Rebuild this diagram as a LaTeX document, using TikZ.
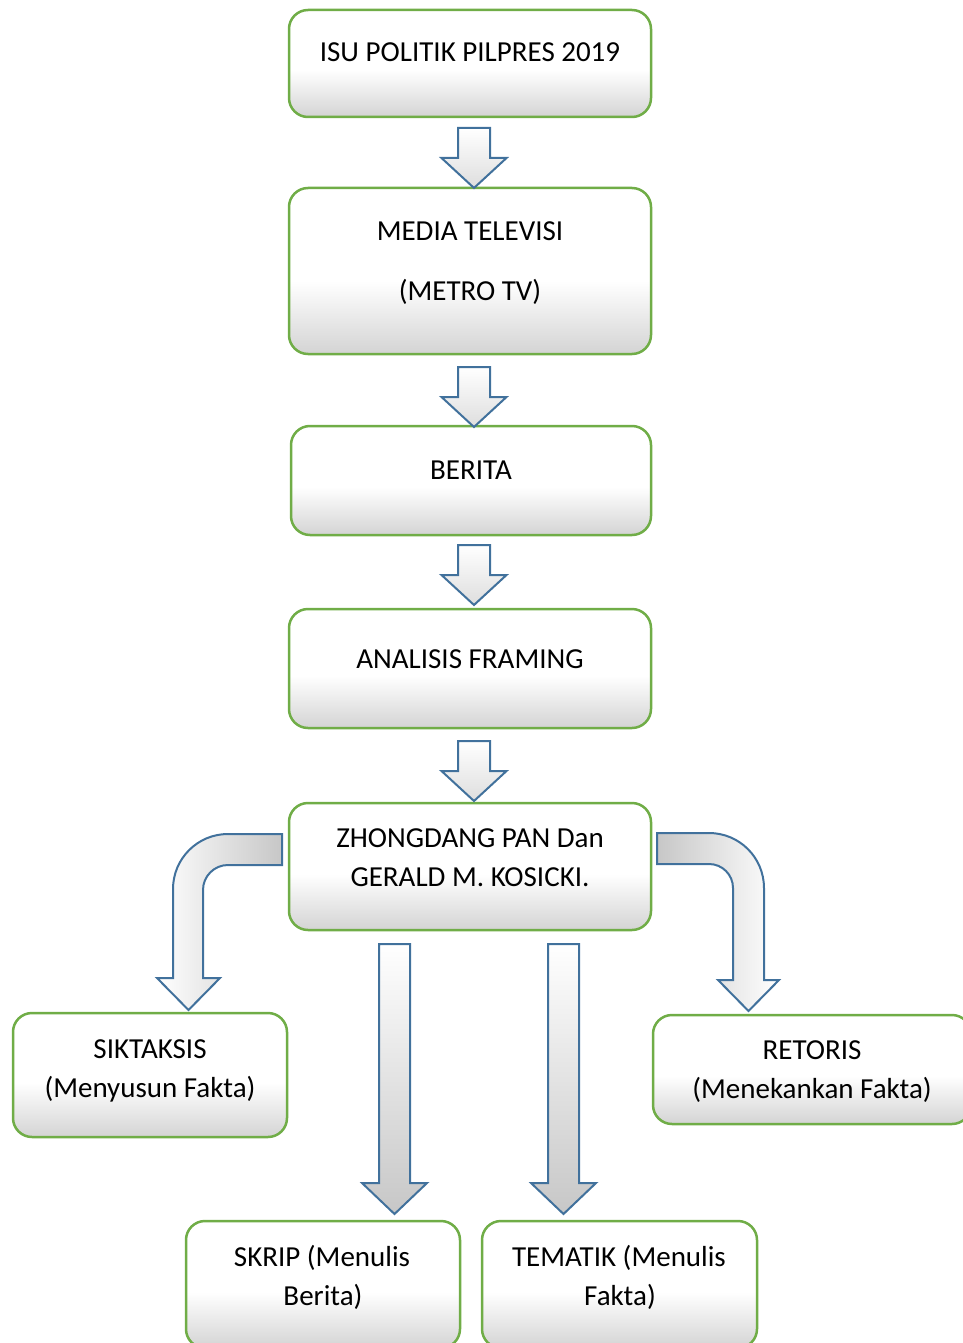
\documentclass[tikz,border=0pt]{standalone}
\usepackage{fontspec}
\setmainfont{Carlito}
\definecolor{boxgreen}{HTML}{70AD47}
\definecolor{arrblue}{HTML}{41719C}
\pgfdeclareverticalshading{boxshade}{100bp}{color(0bp)=(black!17); color(25bp)=(black!17); color(47bp)=(white); color(75bp)=(white); color(100bp)=(white)}
\tikzset{
  box/.style={draw=boxgreen, line width=2.5pt, rounded corners=19pt, shading=boxshade, inner sep=0pt},
  txt/.style={anchor=base, inner sep=0pt, font=\fontsize{29}{39}\selectfont, text=black},
  varrow/.style={draw=arrblue, line width=2pt, top color=white, bottom color=black!22},
  sarrow/.style={draw=arrblue, line width=2pt, top color=white, bottom color=black!13},
}
\begin{document}
\begin{tikzpicture}[x=1pt, y=-1pt]
\useasboundingbox (0,0) rectangle (962,1343);
% boxes
\node[box, minimum width=362pt, minimum height=107pt] (b1) at (470,63.5) {};
\node[box, minimum width=362pt, minimum height=166pt] (b2) at (470,271) {};
\node[box, minimum width=360pt, minimum height=109pt] (b3) at (471,480.5) {};
\node[box, minimum width=362pt, minimum height=119pt] (b4) at (470,668.5) {};
\node[box, minimum width=362pt, minimum height=127pt] (b5) at (470,866.5) {};
\node[box, minimum width=274pt, minimum height=124pt] (b6) at (150,1075) {};
\node[box, minimum width=318pt, minimum height=109pt] (b7) at (812,1069.5) {};
\node[box, minimum width=274pt, minimum height=127pt] (b8) at (323,1284.5) {};
\node[box, minimum width=275pt, minimum height=127pt] (b9) at (619.5,1284.5) {};
% texts
\node[txt] (t1) at (470,62) {ISU POLITIK PILPRES 2019};
\node[txt] (t2a) at (470,240) {MEDIA TELEVISI};
\node[txt] (t2b) at (470,300) {(METRO TV)};
\node[txt] (t3) at (471,479) {BERITA};
\node[txt] (t4) at (470,668) {ANALISIS FRAMING};
\node[txt] (t5a) at (470,847) {ZHONGDANG PAN Dan};
\node[txt] (t5b) at (470,886) {GERALD M. KOSICKI.};
\node[txt] (t6a) at (150,1058) {SIKTAKSIS};
\node[txt] (t6b) at (150,1097) {(Menyusun Fakta)};
\node[txt] (t7a) at (812,1059) {RETORIS};
\node[txt] (t7b) at (812,1098) {(Menekankan Fakta)};
\node[txt] (t8a) at (322,1266) {SKRIP (Menulis};
\node[txt] (t8b) at (323,1305) {Berita)};
\node[txt] (t9a) at (619,1266) {TEMATIK (Menulis};
\node[txt] (t9b) at (620,1305) {Fakta)};
% small down arrows
\foreach \yt in {128,367,545,741}{
  \shade[sarrow] (458,\yt) -- (490,\yt) -- (490,\yt+30) -- (506.5,\yt+30) -- (474,\yt+60) -- (441.5,\yt+30) -- (458,\yt+30) -- cycle;
}
% long down arrows
\shade[varrow] (379,944) -- (410,944) -- (410,1183) -- (427,1183) -- (394.5,1214) -- (362,1183) -- (379,1183) -- cycle;
\shade[varrow] (548,944) -- (579,944) -- (579,1183) -- (596,1183) -- (563.5,1214) -- (531,1183) -- (548,1183) -- cycle;
% bent arrow left
\shade[draw=arrblue, line width=2pt, left color=white, middle color=white, right color=black!22]
  (282,834) -- (228,834) .. controls (197.6,834) and (173,858.6) .. (173,889)
  -- (173,978) -- (157,978) -- (188.5,1010) -- (220,978) -- (203,978) -- (203,890)
  .. controls (203,876.2) and (214.2,865) .. (228,865) -- (282,865) -- cycle;
% bent arrow right
\shade[draw=arrblue, line width=2pt, left color=black!22, middle color=white, right color=white]
  (657,833) -- (709,833) .. controls (739.4,833) and (764,857.6) .. (764,888)
  -- (764,980) -- (779,980) -- (748.5,1011) -- (718,980) -- (733,980) -- (733,888)
  .. controls (733,874.7) and (722.3,864) .. (709,864) -- (657,864) -- cycle;
\end{tikzpicture}
\end{document}
